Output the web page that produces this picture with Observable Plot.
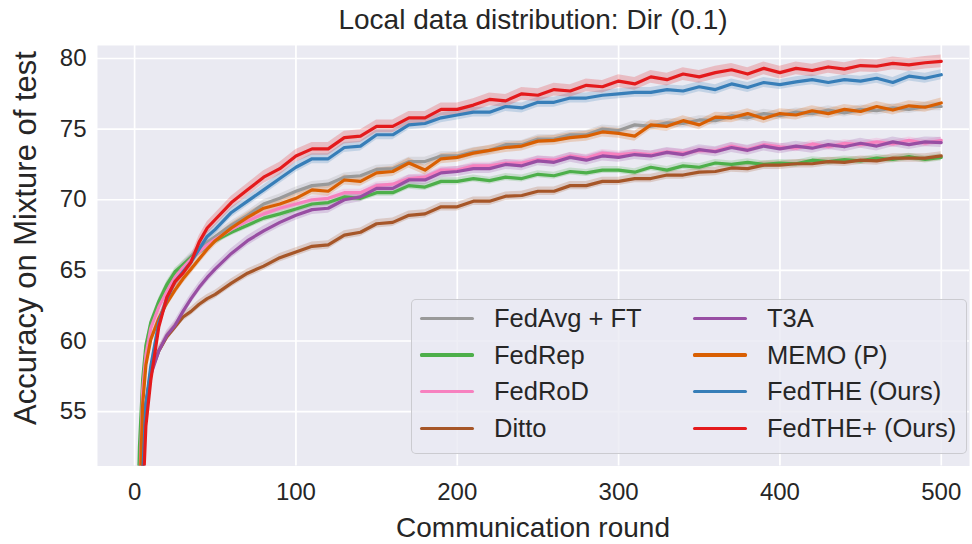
<!DOCTYPE html>
<html>
<head>
<meta charset="utf-8">
<script src="https://cdn.jsdelivr.net/npm/d3@7"></script>
<script src="https://cdn.jsdelivr.net/npm/@observablehq/plot@0.6"></script>
<style>
  html, body { margin: 0; padding: 0; background: white; }
  #wrap { position: relative; width: 972px; height: 544px; font-family: "Liberation Sans", Arial, sans-serif; color: #262626; overflow: hidden; }
  #wrap svg { position: absolute; left: 0; top: 0; }
  .title { position: absolute; left: 97px; width: 872px; top: 2px; text-align: center; font-size: 28px; line-height: 36px; }
  .xlabel { position: absolute; left: 97px; width: 872px; top: 510px; text-align: center; font-size: 28px; line-height: 36px; }
  .ylabel { position: absolute; left: 26px; top: 238px; transform: translate(-50%, -50%) rotate(-90deg); white-space: nowrap; font-size: 31px; line-height: 38px; }
  .legend { position: absolute; left: 411px; top: 299px; width: 556px; height: 155px; box-sizing: border-box;
            border: 1px solid rgba(200,200,204,0.9); border-radius: 5px; background: rgba(234,234,242,0.8);
            display: grid; grid-template-columns: 273px auto; grid-template-rows: repeat(4, 36.7px); grid-auto-flow: column;
            padding-left: 8px; }
  .item { display: flex; align-items: center; font-size: 25.5px; white-space: nowrap; }
  .sw { width: 54px; height: 3.2px; border-radius: 1.6px; margin-right: 20px; flex: none; }
</style>
</head>
<body>
<div id="wrap"></div>
<script>
const title = "Local data distribution: Dir (0.1)";
const xLabel = "Communication round";
const yLabel = "Accuracy on Mixture of test";
const xTicks = [0, 100, 200, 300, 400, 500];
const yTicks = [55, 60, 65, 70, 75, 80];

const rounds = [1, 3, 5, 7, 10, 15, 20, 25, 30, 35, 40, 45, 50, 60, 70, 80, 90,
  100, 110, 120, 130, 140, 150, 160, 170, 180, 190, 200, 210, 220, 230, 240, 250, 260, 270, 280, 290,
  300, 310, 320, 330, 340, 350, 360, 370, 380, 390, 400, 410, 420, 430, 440, 450, 460, 470, 480, 490, 500];

const methods = ["FedAvg + FT", "FedRep", "FedRoD", "Ditto", "T3A", "MEMO (P)", "FedTHE (Ours)", "FedTHE+ (Ours)"];
const colors  = ["#999999", "#4daf4a", "#f781bf", "#a65628", "#984ea3", "#d95f02", "#377eb8", "#e41a1c"];
const stdev   = [0.3, 0.25, 0.25, 0.3, 0.35, 0.35, 0.35, 0.45];

const fedAvgFT = [42, 51.2, 56.5, 59.3, 61.0, 62.7, 63.9, 64.7, 65.4, 66.0, 66.5, 67.0, 67.4, 68.2, 68.9, 69.7, 70.1,
  70.6, 71.0, 71.1, 71.6, 71.7, 72.15, 72.2, 72.7, 72.7, 73.1, 73.1, 73.4, 73.5, 73.9, 73.9, 74.3, 74.3, 74.6, 74.6, 75.0,
  74.9, 75.3, 75.2, 75.45, 75.4, 75.65, 75.6, 75.95, 75.8, 76.1, 75.95, 76.2, 76.1, 76.35, 76.15, 76.4, 76.3, 76.5, 76.4, 76.6, 76.6];
const fedRep = [43, 52.5, 57.3, 59.7, 61.3, 62.8, 64.0, 64.9, 65.4, 65.9, 66.3, 66.7, 67.1, 67.7, 68.2, 68.7, 69.0,
  69.35, 69.7, 69.8, 70.2, 70.1, 70.5, 70.5, 71.0, 70.9, 71.3, 71.3, 71.5, 71.35, 71.6, 71.5, 71.8, 71.7, 72.0, 71.9, 72.1,
  72.1, 71.95, 72.3, 72.1, 72.4, 72.3, 72.6, 72.5, 72.65, 72.5, 72.6, 72.55, 72.8, 72.7, 72.85, 72.75, 72.95, 72.85, 73.05, 72.85, 73.0];
const fedRoD = [41, 49, 56.5, 59.0, 60.9, 62.4, 63.5, 64.5, 65.2, 65.8, 66.3, 66.8, 67.2, 67.9, 68.5, 69.0, 69.4,
  69.7, 70.0, 70.1, 70.5, 70.5, 71.0, 71.1, 71.5, 71.6, 72.1, 72.1, 72.4, 72.4, 72.6, 72.6, 72.85, 72.8, 73.1, 72.95, 73.3,
  73.2, 73.3, 73.2, 73.4, 73.3, 73.5, 73.45, 73.8, 73.55, 73.9, 73.75, 73.65, 73.95, 73.75, 74.0, 73.9, 74.1, 73.95, 74.2, 74.0, 74.2];
const ditto = [38, 45, 51.0, 55.5, 57.8, 59.3, 60.3, 61.0, 61.7, 62.1, 62.6, 63.0, 63.3, 64.1, 64.8, 65.3, 65.9,
  66.3, 66.7, 66.8, 67.5, 67.7, 68.3, 68.4, 68.9, 69.0, 69.5, 69.5, 69.9, 69.9, 70.25, 70.3, 70.6, 70.6, 71.0, 71.0, 71.3,
  71.3, 71.5, 71.5, 71.75, 71.75, 71.95, 72.0, 72.25, 72.2, 72.45, 72.45, 72.55, 72.55, 72.7, 72.65, 72.8, 72.75, 72.95, 72.95, 72.95, 73.1];
const t3a = [38, 45, 51.2, 55.5, 57.6, 59.3, 60.4, 61.1, 62.1, 63.0, 63.8, 64.5, 65.1, 66.2, 67.1, 67.8, 68.4,
  68.9, 69.3, 69.4, 70.0, 70.2, 70.8, 70.8, 71.4, 71.4, 71.9, 72.0, 72.2, 72.2, 72.5, 72.4, 72.75, 72.65, 73.0, 72.8, 73.1,
  73.0, 73.2, 73.1, 73.35, 73.2, 73.55, 73.4, 73.7, 73.5, 73.8, 73.6, 73.8, 73.65, 73.9, 73.75, 74.0, 73.8, 74.1, 73.9, 74.1, 74.05];
const memo = [40, 48, 55.5, 58.3, 60.1, 61.6, 62.7, 63.6, 64.4, 65.1, 65.8, 66.5, 67.1, 68.0, 68.75, 69.4, 69.7,
  70.1, 70.7, 70.6, 71.4, 71.3, 71.9, 72.0, 72.6, 72.1, 72.9, 73.0, 73.3, 73.5, 73.7, 73.8, 74.15, 74.2, 74.4, 74.5, 74.8,
  74.7, 74.5, 75.3, 75.2, 75.6, 75.3, 75.85, 75.8, 76.1, 75.75, 76.1, 76.0, 76.3, 76.1, 76.4, 76.25, 76.6, 76.35, 76.65, 76.55, 76.85];
const fedTHE = [38, 45, 50.5, 55.5, 58.2, 61.3, 63.0, 64.2, 64.9, 65.6, 66.5, 67.4, 67.9, 69.1, 69.9, 70.7, 71.5,
  72.3, 72.9, 72.9, 73.7, 73.8, 74.6, 74.6, 75.3, 75.4, 75.8, 76.0, 76.2, 76.2, 76.6, 76.5, 76.9, 76.9, 77.2, 77.2, 77.4,
  77.5, 77.6, 77.6, 77.8, 77.7, 78.0, 77.8, 78.2, 77.95, 78.3, 78.15, 78.35, 78.5, 78.3, 78.5, 78.4, 78.6, 78.3, 78.75, 78.6, 78.85];
const fedTHEplus = [38, 44, 48.5, 54, 57.2, 61.0, 63.1, 64.2, 64.8, 65.6, 67.0, 68.0, 68.6, 69.8, 70.7, 71.6, 72.2,
  73.1, 73.6, 73.6, 74.4, 74.5, 75.2, 75.2, 75.8, 75.8, 76.4, 76.4, 76.7, 77.1, 77.0, 77.5, 77.4, 77.8, 77.7, 78.1, 78.0,
  78.4, 78.2, 78.7, 78.5, 78.9, 78.7, 79.0, 79.2, 78.9, 79.3, 79.0, 79.3, 79.15, 79.4, 79.25, 79.5, 79.45, 79.65, 79.55, 79.7, 79.8];

const series = [fedAvgFT, fedRep, fedRoD, ditto, t3a, memo, fedTHE, fedTHEplus];

const rows = [];
series.forEach((vals, i) => {
  vals.forEach((v, j) => {
    rows.push({method: methods[i], round: rounds[j], value: v, lo: v - stdev[i], hi: v + stdev[i]});
  });
});

const wrap = document.getElementById("wrap");

const chart = Plot.plot({
  width: 972,
  height: 544,
  marginLeft: 97,
  marginRight: 3,
  marginTop: 45,
  marginBottom: 78.5,
  style: {fontSize: "24px", fontFamily: "'Liberation Sans', Arial, sans-serif", color: "#262626", background: "transparent", overflow: "visible"},
  x: {domain: [-23, 517.5]},
  y: {domain: [51.15, 80.92]},
  color: {domain: methods, range: colors},
  marks: [
    Plot.frame({fill: "#eaeaf2", stroke: null}),
    Plot.gridX(xTicks, {stroke: "white", strokeOpacity: 1, strokeWidth: 1.7}),
    Plot.gridY(yTicks, {stroke: "white", strokeOpacity: 1, strokeWidth: 1.7}),
    Plot.areaY(rows, {x: "round", y1: "lo", y2: "hi", z: "method", fill: "method", fillOpacity: 0.22, clip: true}),
    Plot.line(rows, {x: "round", y: "value", z: "method", stroke: "method", strokeWidth: 3.2, strokeLinejoin: "round", clip: true}),
    Plot.axisX(xTicks, {tickSize: 0, tickPadding: 17, label: null, fontSize: 24}),
    Plot.axisY(yTicks, {tickSize: 0, tickPadding: 11, label: null, fontSize: 24})
  ]
});
wrap.appendChild(chart);

const t = document.createElement("div"); t.className = "title"; t.textContent = title; wrap.appendChild(t);
const xl = document.createElement("div"); xl.className = "xlabel"; xl.textContent = xLabel; wrap.appendChild(xl);
const yl = document.createElement("div"); yl.className = "ylabel"; yl.textContent = yLabel; wrap.appendChild(yl);

const leg = document.createElement("div"); leg.className = "legend";
methods.forEach((m, i) => {
  const it = document.createElement("div"); it.className = "item";
  const sw = document.createElement("span"); sw.className = "sw"; sw.style.background = colors[i];
  const tx = document.createElement("span"); tx.textContent = m;
  it.appendChild(sw); it.appendChild(tx); leg.appendChild(it);
});
wrap.appendChild(leg);
</script>
</body>
</html>
